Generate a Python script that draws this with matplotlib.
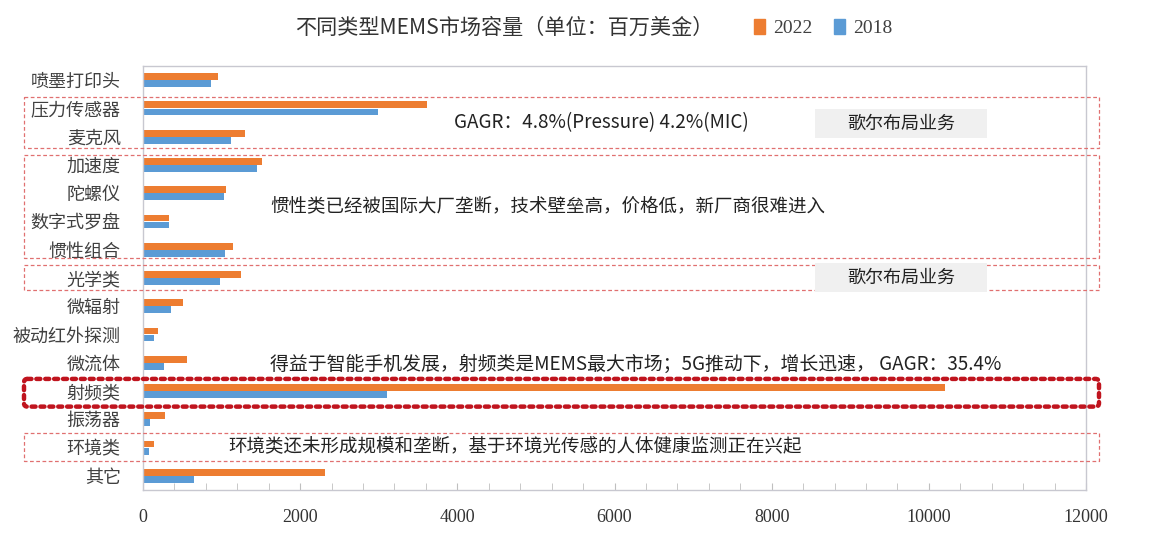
import matplotlib
matplotlib.use("Agg")
import matplotlib.pyplot as plt
import matplotlib.transforms as mtransforms
from matplotlib.patches import Rectangle, FancyBboxPatch
from matplotlib.ticker import MultipleLocator
import numpy as np

plt.rcParams['font.family'] = ['Noto Sans CJK SC', 'DejaVu Sans']

categories = ["喷墨打印头", "压力传感器", "麦克风", "加速度", "陀螺仪", "数字式罗盘", "惯性组合",
              "光学类", "微辐射", "被动红外探测", "微流体", "射频类", "振荡器", "环境类", "其它"]
values_2022 = [950, 3620, 1300, 1510, 1050, 330, 1150, 1250, 510, 190, 560, 10200, 275, 145, 2320]
values_2018 = [870, 2990, 1120, 1455, 1030, 330, 1045, 975, 355, 135, 265, 3110, 95, 75, 650]
years = ["2022", "2018"]
x_ticks = [0, 2000, 4000, 6000, 8000, 10000, 12000]

title = "不同类型MEMS市场容量（单位：百万美金）"
note_pressure = "GAGR：4.8%(Pressure) 4.2%(MIC)"
note_inertial = "惯性类已经被国际大厂垄断，技术壁垒高，价格低，新厂商很难进入"
note_rf = "得益于智能手机发展，射频类是MEMS最大市场；5G推动下，增长迅速， GAGR：35.4%"
note_env = "环境类还未形成规模和垄断，基于环境光传感的人体健康监测正在兴起"
note_goer = "歌尔布局业务"

ORANGE = "#ED7D31"
BLUE = "#5B9BD5"
W, H = 1154, 554
FS = 13.3

fig = plt.figure(figsize=(W / 100, H / 100), dpi=100)
ax = fig.add_axes([143 / W, 1 - 490 / H, (1086 - 143) / W, (490 - 66) / H])

y = np.arange(len(categories))
bh = 0.24
ax.barh(y - 0.125, values_2022, height=bh, color=ORANGE, label=years[0], zorder=2)
ax.barh(y + 0.125, values_2018, height=bh, color=BLUE, label=years[1], zorder=2)

ax.set_ylim(len(categories) - 0.5, -0.5)
ax.set_xlim(0, 12000)
ax.set_yticks(y)
ax.set_yticklabels(categories, fontsize=13, color="#404040")
ax.tick_params(axis="y", length=0, pad=16)
ax.set_xticks(x_ticks)
ax.set_xticklabels([str(t) for t in x_ticks], family="Liberation Serif", fontsize=13, color="#333333")
ax.xaxis.set_minor_locator(MultipleLocator(400))
ax.tick_params(axis="x", which="both", direction="in", length=5, color="#bfbfbf", pad=14)
for s in ax.spines.values():
    s.set_color("#c8c8d0")
    s.set_linewidth(1.0)

# annotation boxes: x in figure fraction, y in category units
blend = mtransforms.blended_transform_factory(fig.transFigure, ax.transData)
x0, x1 = 24 / W, 1099 / W

def dashed_box(ya, yb):
    ax.add_patch(Rectangle((x0, ya), x1 - x0, yb - ya, transform=blend, clip_on=False,
                           fill=False, edgecolor="#e07070", linewidth=0.9,
                           linestyle=(0, (3, 2)), zorder=3))

dashed_box(0.59, 2.40)
dashed_box(2.65, 6.29)
dashed_box(6.54, 7.42)
dashed_box(12.47, 13.46)

ax.add_patch(FancyBboxPatch((x0, 10.57), x1 - x0, 0.98, transform=blend, clip_on=False,
                            boxstyle="round,pad=0,rounding_size=0.003", mutation_aspect=W / 28.3,
                            fill=False, edgecolor="#c0141e", linewidth=3.2,
                            linestyle=(0, (0.9, 1.1)), capstyle="round", zorder=3))

for ya, yb in [(1.02, 2.05), (6.47, 7.49)]:
    ax.add_patch(Rectangle((815 / W, ya), (987 - 815) / W, yb - ya, transform=blend,
                           clip_on=False, facecolor="#f0f0f0", edgecolor="none", zorder=4))
    ax.text(901 / W, (ya + yb) / 2, note_goer, transform=blend, ha="center", va="center",
            fontsize=13, color="#222222", zorder=5)

ax.text(454 / W, 1.52, note_pressure, transform=blend, ha="left", va="center",
        fontsize=FS + 0.3, color="#222222", zorder=5)
ax.text(270 / W, 4.49, note_inertial, transform=blend, ha="left", va="center",
        fontsize=FS, color="#222222", zorder=5)
ax.text(270 / W, 10.04, note_rf, transform=blend, ha="left", va="center",
        fontsize=FS + 0.3, color="#222222", zorder=5)
ax.text(228 / W, 13.0, note_env, transform=blend, ha="left", va="center",
        fontsize=FS, color="#222222", zorder=5)

fig.text(504 / W, 1 - 28 / H, title, ha="center", va="center", fontsize=15.2, color="#333333")

handles = [Rectangle((0, 0), 1, 1, color=ORANGE), Rectangle((0, 0), 1, 1, color=BLUE)]
fig.legend(handles, years, loc="center", bbox_to_anchor=(823 / W, 1 - 28 / H), ncol=2,
           frameon=False, prop={"family": "Liberation Serif", "size": 14},
           handlelength=0.6, handleheight=0.8, handletextpad=0.4, columnspacing=1.1,
           labelcolor="#404040")

fig.savefig("out.png", dpi=100, facecolor="white")
